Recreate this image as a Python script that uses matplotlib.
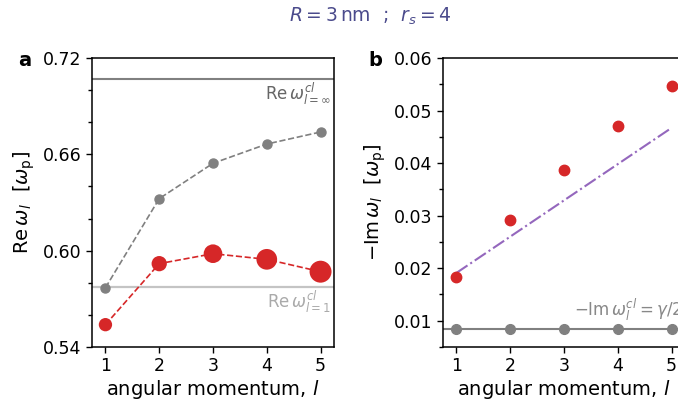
import numpy as np
import matplotlib
matplotlib.use('Agg')
import matplotlib.pyplot as plt
from matplotlib.ticker import MultipleLocator

# angular momentum
l_vals = [1, 2, 3, 4, 5]

# panel a: real part of the resonance frequency [omega_p]
re_quantum = [0.5539, 0.5919, 0.5981, 0.5946, 0.5869]
re_classical = [0.5769, 0.6324, 0.6544, 0.6664, 0.6739]
red_sizes = [92, 121, 180, 222, 250]   # marker area, grows with l
re_cl_inf = 0.7071   # 1/sqrt(2)
re_cl_1 = 0.5774     # 1/sqrt(3)

# panel b: minus imaginary part [omega_p]
im_quantum = [0.0183, 0.0292, 0.0387, 0.0471, 0.0547]
im_fit = [0.0191, 0.0260, 0.0329, 0.0398, 0.0467]
im_classical = [0.0084, 0.0084, 0.0084, 0.0084, 0.0084]

red = '#d62728'
grey = '#808080'
purple = '#9467bd'

fig = plt.figure(figsize=(6.78, 4.03), dpi=100)
ax1 = fig.add_axes([0.1357, 0.1390, 0.3569, 0.7171])
ax2 = fig.add_axes([0.6534, 0.1390, 0.3569, 0.7171])

# --- panel a
ax1.axhline(re_cl_inf, color=grey, lw=1.5, zorder=1)
ax1.axhline(re_cl_1, color='#c4c4c4', lw=1.6, zorder=1)
ax1.plot(l_vals, re_classical, '--', color=grey, lw=1.2, zorder=2)
ax1.plot(l_vals, re_classical, 'o', color=grey, ms=6.5, zorder=3)
ax1.plot(l_vals, re_quantum, '--', color=red, lw=1.2, zorder=2)
ax1.scatter(l_vals, re_quantum, s=red_sizes, color=red, zorder=4, lw=0)

ax1.text(5.2, re_cl_inf - 0.0012, r'$\mathrm{Re}\,\omega^{cl}_{l=\infty}$',
         ha='right', va='top', color='#666666', fontsize=12)
ax1.text(5.2, re_cl_1 - 0.0012, r'$\mathrm{Re}\,\omega^{cl}_{l=1}$',
         ha='right', va='top', color='#aaaaaa', fontsize=12)

ax1.set_xlim(0.75, 5.25)
ax1.set_ylim(0.54, 0.72)
ax1.set_yticks([0.54, 0.60, 0.66, 0.72])
ax1.yaxis.set_minor_locator(MultipleLocator(0.02))
ax1.set_ylabel(r'$\mathrm{Re}\,\omega_l\ \ [\omega_\mathrm{p}]$', fontsize=14)
ax1.set_xlabel(r'angular momentum, $l$', fontsize=14, labelpad=2)

# --- panel b
ax2.axhline(im_classical[0], color=grey, lw=1.5, zorder=1)
ax2.plot(l_vals, im_classical, 'o', color=grey, ms=7, zorder=3)
ax2.plot(l_vals, im_fit, '-.', color=purple, lw=1.5, zorder=2)
ax2.plot(l_vals, im_quantum, 'o', color=red, ms=7.5, zorder=4)

ax2.text(5.2, im_classical[0] + 0.0011, r'$-\mathrm{Im}\,\omega^{cl}_{l} = \gamma/2$',
         ha='right', va='bottom', color='#888888', fontsize=12)

ax2.set_xlim(0.75, 5.25)
ax2.set_ylim(0.005, 0.06)
ax2.set_yticks([0.01, 0.02, 0.03, 0.04, 0.05, 0.06])
ax2.yaxis.set_minor_locator(MultipleLocator(0.005))
ax2.set_ylabel(r'$-\mathrm{Im}\,\omega_l\ \ [\omega_\mathrm{p}]$', fontsize=14)
ax2.set_xlabel(r'angular momentum, $l$', fontsize=14, labelpad=2)

for ax in (ax1, ax2):
    ax.set_xticks(l_vals)
    ax.tick_params(labelsize=12.5, width=1.0, length=4)
    ax.tick_params(which='minor', width=1.0, length=3)
    for sp in ax.spines.values():
        sp.set_linewidth(1.1)

fig.text(25 / 678, 1 - 61 / 403, 'a', fontsize=14, fontweight='bold', ha='center', va='center')
fig.text(375 / 678, 1 - 60 / 403, 'b', fontsize=14, fontweight='bold', ha='center', va='center')

fig.text(370 / 678, 1 - 16 / 403, r'$R = 3\,\mathrm{nm}$  ;  $r_s = 4$',
         fontsize=13.5, color='#4b4b8c', ha='center', va='center')

fig.savefig('out.png', dpi=100)
